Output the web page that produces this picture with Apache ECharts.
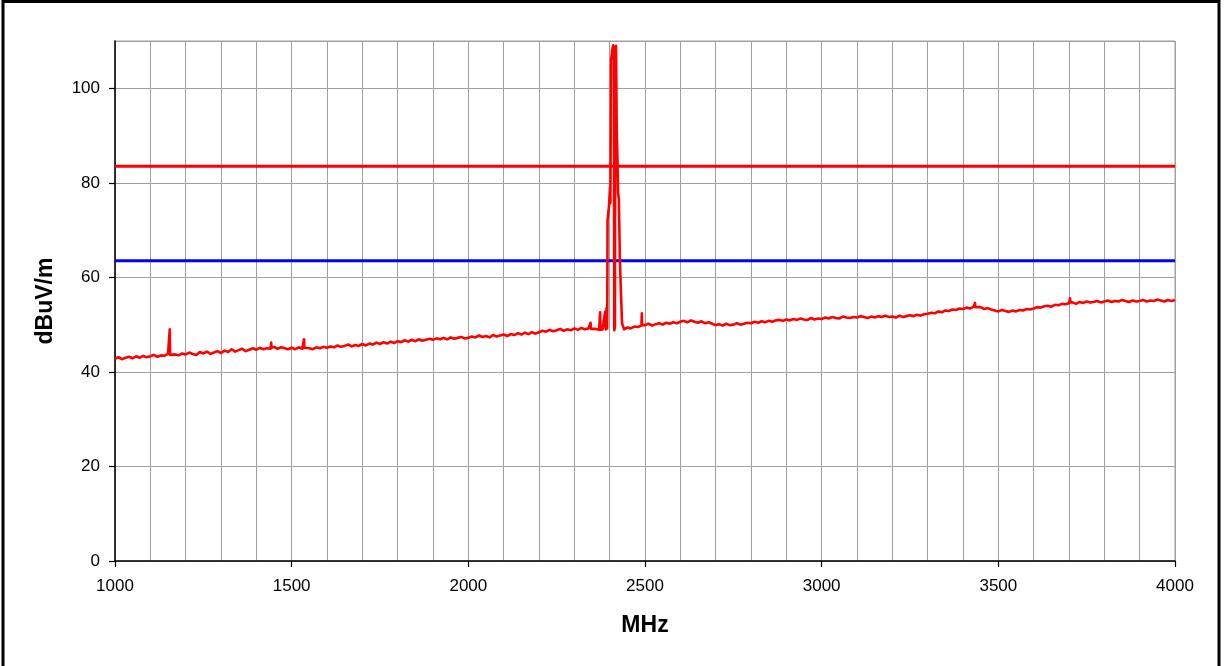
<!DOCTYPE html>
<html>
<head>
<meta charset="utf-8">
<title>Radiated emissions 1–4 GHz</title>
<script src="https://cdn.jsdelivr.net/npm/echarts@6/dist/echarts.min.js"></script>
<style>
  html, body { margin: 0; padding: 0; background: #fff; }
  #chart { width: 1225px; height: 666px; }
</style>
</head>
<body>
<div id="chart"></div>
<script>
// Measured field strength (dBuV/m), sampled every 10 MHz below the carrier
const lowBandStartMHz = 1000;
const lowBandLevels = [
  42.8, 43.1, 42.7, 43.0, 43.2, 42.9, 43.3, 43.0, 43.4, 43.1,
  43.3, 43.6, 43.2, 43.5, 43.4, 43.8, 43.4, 43.7, 43.5, 43.9,
  43.7, 44.1, 43.8, 43.6, 44.2, 43.9, 44.3, 43.8, 44.1, 44.4,
  44.0, 44.5, 44.2, 44.8, 44.3, 44.6, 44.9, 44.4, 44.7, 45.0,
  44.7, 45.1, 44.8, 45.0, 44.9, 45.3, 44.9, 45.2, 45.0, 44.8,
  45.1, 44.8, 45.2, 44.9, 45.3, 45.0, 44.8, 45.2, 45.0, 45.3,
  45.1, 45.4, 45.2, 45.6, 45.3, 45.5, 45.8, 45.4, 45.7, 45.5,
  45.9, 45.6, 46.0, 45.8, 46.2, 45.9, 46.3, 46.0, 46.4, 46.1,
  46.5, 46.3, 46.7, 46.4, 46.8, 46.5, 46.9, 46.6, 46.8, 47.0,
  46.8, 47.1, 46.9, 47.2, 46.9, 47.3, 47.0, 47.2, 47.4, 47.1,
  47.2, 47.5, 47.3, 47.7, 47.4, 47.6, 47.3, 47.8, 47.5, 47.7,
  47.9, 47.6, 48.0, 47.8, 48.2, 47.9, 48.3, 48.0, 48.4, 48.1,
  48.4, 48.7, 48.5, 48.9, 48.6, 48.8, 49.1, 48.7, 49.0, 48.8,
  49.2, 48.9, 49.3, 49.0, 49.2, 48.8, 49.1, 48.9, 49.0
];

// Measured field strength (dBuV/m), sampled every 10 MHz above the carrier
const highBandStartMHz = 2450;
const highBandLevels = [
  49.4, 49.2, 49.6, 49.5, 49.8,
  49.9, 50.2, 49.8, 50.1, 50.3, 50.0, 50.4, 50.2, 50.5, 50.3,
  50.6, 50.8, 50.5, 50.9, 50.6, 50.4, 50.7, 50.3, 50.5, 50.2,
  49.9, 50.1, 49.8, 50.2, 49.9, 50.0, 50.3, 50.0, 50.2, 50.4,
  50.3, 50.6, 50.4, 50.7, 50.5, 50.8, 50.6, 50.9, 51.0, 50.8,
  51.1, 50.9, 51.2, 51.0, 51.3, 51.1, 51.0, 51.4, 51.1, 51.3,
  51.2, 51.5, 51.3, 51.6, 51.4, 51.3, 51.7, 51.5, 51.4, 51.6,
  51.5, 51.8, 51.6, 51.4, 51.7, 51.5, 51.8, 51.6, 51.9, 51.6,
  51.7, 51.5, 51.9, 51.6, 51.8, 52.0, 51.8, 52.1, 51.9, 52.2,
  52.3, 52.5, 52.4, 52.8, 52.6, 53.0, 52.9, 53.2, 53.1, 53.4,
  53.3, 53.6, 53.4, 53.8, 53.5, 53.7, 53.3, 53.5, 53.2, 53.0,
  52.8, 53.1, 52.9, 52.7, 53.0, 52.8, 53.1, 53.0, 53.3, 53.2,
  53.4, 53.7, 53.6, 53.9, 54.0, 53.8, 54.2, 54.1, 54.4, 54.3,
  54.5, 54.7, 54.4, 54.8, 54.6, 54.9, 54.7, 54.8, 55.0, 54.7,
  54.9, 55.1, 54.8, 55.0, 54.9, 55.2, 55.0, 54.8, 55.1, 54.9,
  55.0, 55.2, 54.9, 55.1, 55.0, 55.3, 55.1, 54.9, 55.2, 55.0,
  55.2
];

// Finely sampled carrier around 2.4 GHz: [MHz, dBuV/m]
const carrierTrace = [
  [2384, 48.9], [2387, 52.7], [2389, 49.0], [2391, 53.5], [2393, 49.2],
  [2394, 72.1], [2398, 75.0], [2401, 79.1], [2402, 75.7], [2404, 105.9],
  [2407, 108.0], [2410, 109.1], [2412, 108.5], [2413, 48.8], [2415, 49.5],
  [2416, 108.2], [2418, 109.0], [2420, 91.1], [2422, 85.0], [2424, 77.7],
  [2426, 76.5], [2429, 63.6], [2432, 56.6], [2435, 50.3], [2438, 50.5],
  [2441, 49.0], [2445, 49.3]
];

// Narrow spurious peaks: [MHz, dBuV/m]
const spurs = [
  [1154, 43.5], [1155, 49.0], [1156, 43.6],
  [1441, 45.0], [1442, 46.2], [1443, 45.1],
  [1534, 45.0], [1535, 46.9], [1536, 45.1],
  [2345, 49.0], [2346, 50.4], [2347, 49.1],
  [2372, 49.0], [2373, 52.6], [2374, 48.9],
  [2491, 52.4], [2492, 49.9],
  [3433, 53.6], [3434, 54.6], [3435, 53.7],
  [3702, 54.6], [3703, 55.6], [3704, 54.7]
];

// Limit lines (dBuV/m)
const peakLimit = 83.5;
const averageLimit = 63.5;

// Axis ranges
const freqRange = [1000, 4000];
const levelRange = [0, 110];

const stepMHz = 10;
const trace = []
  .concat(lowBandLevels.map((v, i) => [lowBandStartMHz + i * stepMHz, v]))
  .concat(highBandLevels.map((v, i) => [highBandStartMHz + i * stepMHz, v]))
  .concat(carrierTrace)
  .concat(spurs)
  .sort((a, b) => a[0] - b[0]);

const font = '"Liberation Sans", Arial, sans-serif';
const gridGray = '#a0a0a0';

const chart = echarts.init(document.getElementById('chart'), null, { renderer: 'canvas' });
chart.setOption({
  animation: false,
  backgroundColor: '#ffffff',
  grid: {
    left: 115, right: 50, top: 41, bottom: 105,
    show: true, borderColor: gridGray, borderWidth: 1, backgroundColor: 'transparent'
  },
  xAxis: {
    type: 'value',
    min: freqRange[0], max: freqRange[1], interval: 500,
    name: 'MHz', nameLocation: 'middle', nameGap: 53,
    nameTextStyle: { fontFamily: font, fontSize: 23, fontWeight: 'bold', color: '#000' },
    axisLine: { show: true, lineStyle: { color: '#000', width: 1.5 } },
    axisTick: { show: true, length: 6, lineStyle: { color: '#000', width: 1.2 } },
    axisLabel: {
      fontFamily: font, fontSize: 17, color: '#000', margin: 17,
      formatter: (v) => String(v)
    },
    splitLine: { show: true, lineStyle: { color: gridGray, width: 1 } },
    minorTick: { show: false, splitNumber: 5 },
    minorSplitLine: { show: true, lineStyle: { color: gridGray, width: 1 } }
  },
  yAxis: {
    type: 'value',
    min: levelRange[0], max: levelRange[1], interval: 20,
    name: 'dBuV/m', nameLocation: 'middle', nameGap: 58, nameRotate: 90,
    nameTextStyle: { fontFamily: font, fontSize: 23, fontWeight: 'bold', color: '#000' },
    axisLine: { show: true, lineStyle: { color: '#000', width: 1.5 } },
    axisTick: { show: true, length: 6, lineStyle: { color: '#000', width: 1.2 } },
    axisLabel: {
      fontFamily: font, fontSize: 17, color: '#000', margin: 15, showMaxLabel: false,
      formatter: (v) => String(v)
    },
    splitLine: { show: true, lineStyle: { color: gridGray, width: 1 } }
  },
  series: [
    {
      name: 'Peak limit',
      type: 'line',
      data: [[freqRange[0], peakLimit], [freqRange[1], peakLimit]],
      symbol: 'none',
      lineStyle: { color: '#ff0000', width: 3 },
      z: 3
    },
    {
      name: 'Average limit',
      type: 'line',
      data: [[freqRange[0], averageLimit], [freqRange[1], averageLimit]],
      symbol: 'none',
      lineStyle: { color: '#0000ff', width: 3 },
      z: 3
    },
    {
      name: 'Measured',
      type: 'line',
      data: trace,
      symbol: 'none',
      sampling: null,
      lineStyle: { color: '#ff0000', width: 2.6, join: 'round' },
      z: 4
    }
  ],
  graphic: [
    {
      type: 'rect',
      shape: { x: 3, y: 1.5, width: 1216, height: 700 },
      style: { fill: 'none', stroke: '#000', lineWidth: 3 },
      silent: true
    }
  ]
});
</script>
</body>
</html>
